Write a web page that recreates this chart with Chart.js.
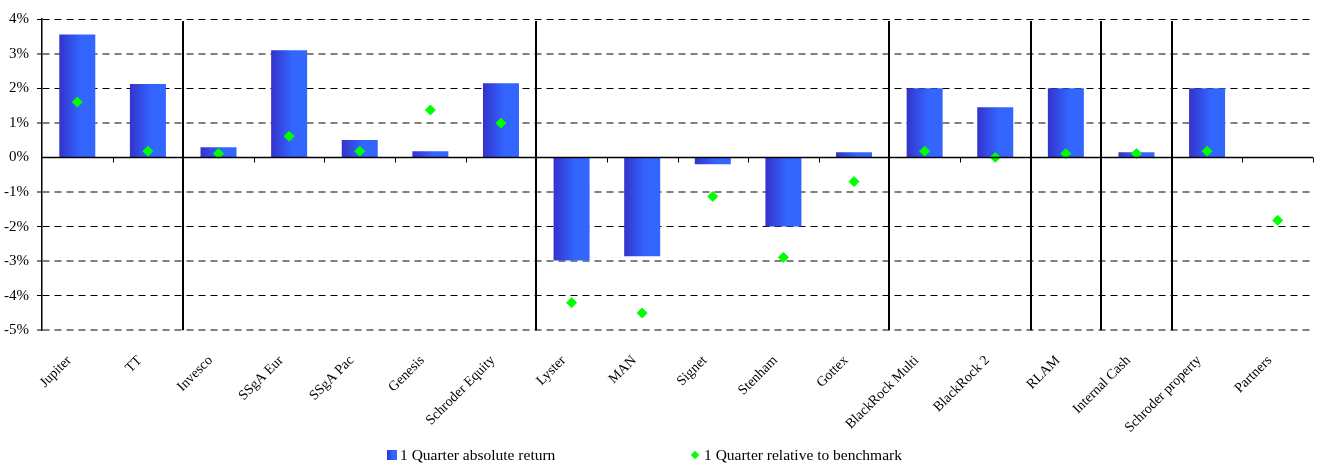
<!DOCTYPE html>
<html>
	<head>
		<meta charset="UTF-8">
		<title>1 Quarter returns</title>
		<script type="text/javascript" src="https://cdn.jsdelivr.net/npm/chart.js@4.4.1/dist/chart.umd.min.js"></script>
		<style type="text/css">
			body{
				margin: 0;
				background: #fff;
			}
			#casca{
				position: relative;
				width: 1319px;
				height: 465px;
			}
			#area-grafico{
				position: absolute;
				left: 0;
				top: 2px;
				width: 1319px;
				height: 448px;
			}
			#legenda{
				position: absolute;
				top: 446px;
				left: 0;
				width: 1319px;
				font-family: "Liberation Serif", serif;
				font-size: 15.5px;
				color: #000;
			}
			#legenda span{
				position: absolute;
				white-space: nowrap;
			}
			.quadrado{
				display: inline-block;
				width: 10px;
				height: 10px;
				background: linear-gradient(to right, #3333cc, #3366ff 60%);
			}
			.losango{
				display: inline-block;
				width: 6px;
				height: 6px;
				background: #00ff00;
				transform: rotate(45deg);
			}
		</style>
	</head>
	<body>
		<div id="casca">
			<div id="area-grafico"><canvas id="grafico"></canvas></div>
			<div id="legenda">
				<span style="left:387px;top:4px;" class="quadrado"></span>
				<span style="left:400px;top:0px;">1 Quarter absolute return</span>
				<span style="left:692px;top:6px;" class="losango"></span>
				<span style="left:704px;top:0px;">1 Quarter relative to benchmark</span>
			</div>
		</div>
		<script type="text/javascript">

			var categorias = ["Jupiter","TT","Invesco","SSgA Eur","SSgA Pac","Genesis","Schroder Equity",
				"Lyster","MAN","Signet","Stenham","Gottex","BlackRock Multi","BlackRock 2","RLAM",
				"Internal Cash","Schroder property","Partners"];
			var retornoAbsoluto = [3.55,2.12,0.29,3.1,0.5,0.18,2.14,-2.98,-2.86,-0.2,-2.0,0.15,2.0,1.45,2.0,0.15,2.0,null];
			var relativoBenchmark = [1.6,0.18,0.11,0.61,0.18,1.37,0.99,-4.2,-4.5,-1.13,-2.89,-0.7,0.18,0.0,0.11,0.11,0.18,-1.82];
			// separadores verticais depois destas categorias
			var separadores = [1,6,11,13,14,15];
			var eixoY = {min: -5, max: 4, passo: 1};

			var larguraBarra = 0.51;

			function gradienteBarra(ctx){
				var chart = ctx.chart;
				if (!chart.chartArea || !chart.scales.x) return "#3355ee";
				var sx = chart.scales.x;
				var cx = sx.getPixelForValue(ctx.dataIndex);
				var w = (sx.width / categorias.length) * larguraBarra / 2;
				var g = chart.ctx.createLinearGradient(cx - w, 0, cx + w, 0);
				g.addColorStop(0, "#3333cc");
				g.addColorStop(0.6, "#3366ff");
				g.addColorStop(1, "#3366ff");
				return g;
			}

			var linhas = {
				id: "linhas",
				afterDatasetsDraw: function(chart){
					var ctx = chart.ctx;
					var sx = chart.scales.x, sy = chart.scales.y;
					var a = chart.chartArea;
					var y0 = Math.round(sy.getPixelForValue(0)) + 0.5;
					var passo = sx.width / categorias.length;
					ctx.save();
					// linha do zero e marcas
					ctx.strokeStyle = "#000";
					ctx.lineWidth = 1.5;
					ctx.beginPath();
					ctx.moveTo(a.left, y0);
					ctx.lineTo(a.right, y0);
					ctx.stroke();
					ctx.lineWidth = 1;
					ctx.beginPath();
					for (var i = 1; i <= categorias.length; i++) {
						var x = Math.round(a.left + i * passo) + 0.5;
						ctx.moveTo(x, y0);
						ctx.lineTo(x, y0 + 5);
					}
					ctx.stroke();
					// separadores
					ctx.lineWidth = 2;
					ctx.beginPath();
					separadores.forEach(function(s){
						var x = Math.round(a.left + (s + 1) * passo);
						ctx.moveTo(x, a.top + 2);
						ctx.lineTo(x, a.bottom);
					});
					ctx.stroke();
					ctx.restore();
				}
			};

			var ctx = document.getElementById("grafico");
			var meuGrafico = new Chart(ctx, {
				type: "bar",
				data: {
					labels: categorias,
					datasets: [
						{
							type: "line",
							label: "1 Quarter relative to benchmark",
							data: relativoBenchmark,
							showLine: false,
							pointStyle: "rectRot",
							pointRadius: 5,
							pointBorderWidth: 1,
							pointBackgroundColor: "#00ff00",
							pointBorderColor: "#00ff00",
							order: 0
						},
						{
							label: "1 Quarter absolute return",
							data: retornoAbsoluto,
							backgroundColor: gradienteBarra,
							borderWidth: 0,
							categoryPercentage: 1,
							barPercentage: larguraBarra,
							order: 1
						}
					]
				},
				options: {
					responsive: true,
					maintainAspectRatio: false,
					animation: false,
					layout: {padding: {top: 16, right: 4, left: 1, bottom: 0}},
					plugins: {
						legend: {display: false},
						tooltip: {enabled: false}
					},
					scales: {
						x: {
							grid: {display: false},
							border: {display: false},
							ticks: {
								color: "#000",
								font: {family: "Liberation Serif", size: 14},
								maxRotation: 45,
								minRotation: 45,
								padding: 14,
								labelOffset: -8,
								autoSkip: false
							}
						},
						y: {
							min: eixoY.min,
							max: eixoY.max,
							afterFit: function(s){ s.width = 41; },
							border: {display: true, color: "#000", width: 1.5, dash: [7,5]},
							grid: {
								color: function(c){
									var v = c.tick ? c.tick.value : 0;
									if (v === 0) return "rgba(0,0,0,0)";
									return Math.abs(v) % 2 === 1 ? "#808080" : "#000000";
								},
								lineWidth: function(c){
									var v = c.tick ? c.tick.value : 0;
									return Math.abs(v) % 2 === 1 ? 2 : 1;
								},
								tickLength: 5
							},
							ticks: {
								stepSize: eixoY.passo,
								color: "#000",
								padding: 8,
								font: {family: "Liberation Serif", size: 15},
								callback: function(v){ return v + "%"; }
							}
						}
					}
				},
				plugins: [linhas]
			});

		</script>
	</body>
</html>
